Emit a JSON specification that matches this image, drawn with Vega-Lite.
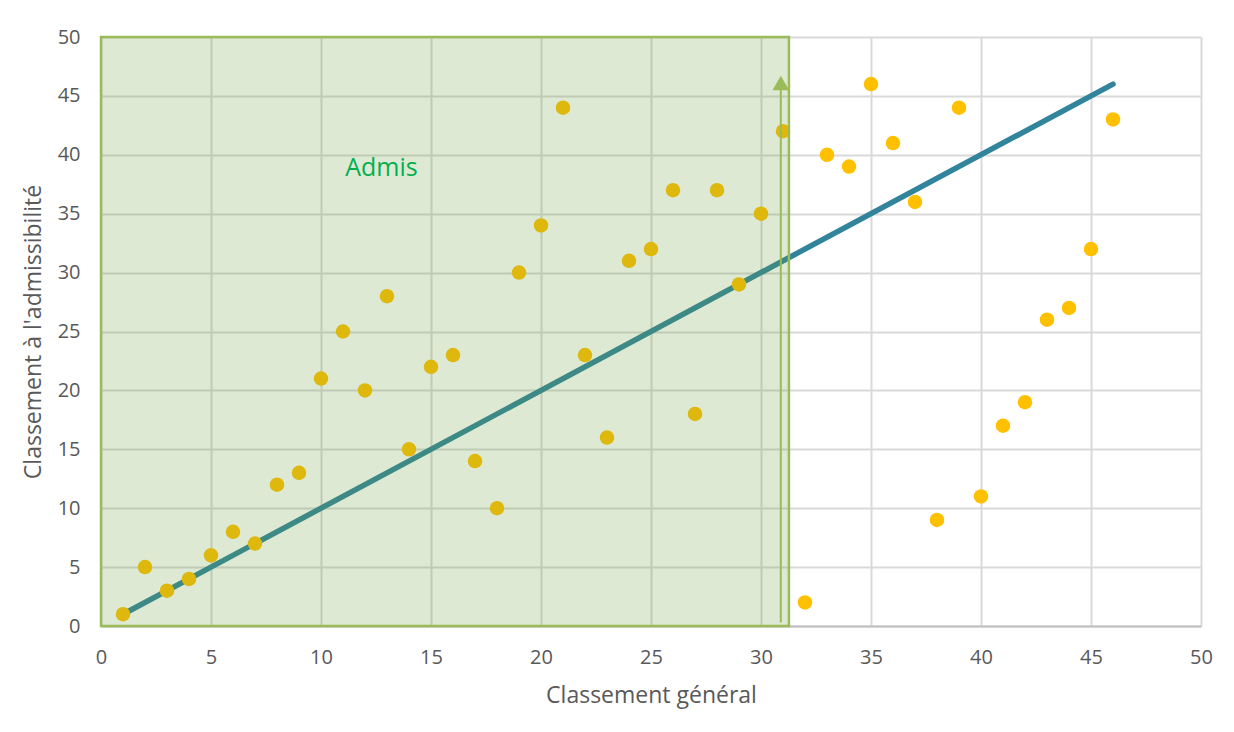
{
  "$schema": "https://vega.github.io/schema/vega-lite/v6.json",
  "width": 1100,
  "height": 589,
  "autosize": {"type": "none"},
  "padding": {"left": 101, "top": 37, "right": 33, "bottom": 106},
  "background": "white",
  "config": {
    "view": {"stroke": null},
    "font": "Open Sans",
    "axis": {"labelFont": "Open Sans", "titleFont": "Open Sans", "labelColor": "#595959", "titleColor": "#595959", "labelFontSize": 20, "titleFontSize": 23, "titleFontWeight": "normal", "gridColor": "#D9D9D9", "gridWidth": 2, "ticks": false, "labelFlush": false}
  },
  "datasets": {
    "pts": [
      {"g": 1, "a": 1}, {"g": 2, "a": 5}, {"g": 3, "a": 3}, {"g": 4, "a": 4}, {"g": 5, "a": 6},
      {"g": 6, "a": 8}, {"g": 7, "a": 7}, {"g": 8, "a": 12}, {"g": 9, "a": 13}, {"g": 10, "a": 21},
      {"g": 11, "a": 25}, {"g": 12, "a": 20}, {"g": 13, "a": 28}, {"g": 14, "a": 15}, {"g": 15, "a": 22},
      {"g": 16, "a": 23}, {"g": 17, "a": 14}, {"g": 18, "a": 10}, {"g": 19, "a": 30}, {"g": 20, "a": 34},
      {"g": 21, "a": 44}, {"g": 22, "a": 23}, {"g": 23, "a": 16}, {"g": 24, "a": 31}, {"g": 25, "a": 32},
      {"g": 26, "a": 37}, {"g": 27, "a": 18}, {"g": 28, "a": 37}, {"g": 29, "a": 29}, {"g": 30, "a": 35},
      {"g": 31, "a": 42}, {"g": 32, "a": 2}, {"g": 33, "a": 40}, {"g": 34, "a": 39}, {"g": 35, "a": 46},
      {"g": 36, "a": 41}, {"g": 37, "a": 36}, {"g": 38, "a": 9}, {"g": 39, "a": 44}, {"g": 40, "a": 11},
      {"g": 41, "a": 17}, {"g": 42, "a": 19}, {"g": 43, "a": 26}, {"g": 44, "a": 27}, {"g": 45, "a": 32},
      {"g": 46, "a": 43}
    ],
    "diag": [{"g": 1, "a": 1}, {"g": 46, "a": 46}],
    "zone": [{"x1": 0, "x2": 31.27, "y1": 0, "y2": 50}],
    "arrow": [{"g": 30.9, "a": 0.3}, {"g": 30.9, "a": 45.6}],
    "head": [{"g": 30.9, "a": 46.1}],
    "label": [{"g": 12.75, "a": 38.9, "t": "Admis"}]
  },
  "layer": [
    {
      "data": {"name": "diag"},
      "mark": {"type": "line", "color": "#31849B", "strokeWidth": 5.5, "strokeCap": "round"},
      "encoding": {
        "x": {"field": "g", "type": "quantitative", "scale": {"domain": [0, 50], "nice": false}, "axis": {"title": "Classement général", "values": [0,5,10,15,20,25,30,35,40,45,50], "labelPadding": 21, "titlePadding": 17, "domain": true, "domainColor": "#BFBFBF", "domainWidth": 2}},
        "y": {"field": "a", "type": "quantitative", "scale": {"domain": [0, 50], "nice": false}, "axis": {"title": "Classement à l'admissibilité", "values": [0,5,10,15,20,25,30,35,40,45,50], "labelPadding": 21, "titlePadding": 12, "domain": false}}
      }
    },
    {
      "data": {"name": "pts"},
      "mark": {"type": "circle", "color": "#FFC000", "opacity": 1, "size": 210},
      "encoding": {
        "x": {"field": "g", "type": "quantitative"},
        "y": {"field": "a", "type": "quantitative"}
      }
    },
    {
      "data": {"name": "zone"},
      "mark": {"type": "rect", "fill": "#6A9A3A", "fillOpacity": 0.22, "stroke": "#9BBB59", "strokeWidth": 2.5},
      "encoding": {
        "x": {"field": "x1", "type": "quantitative"},
        "x2": {"field": "x2"},
        "y": {"field": "y1", "type": "quantitative"},
        "y2": {"field": "y2"}
      }
    },
    {
      "data": {"name": "arrow"},
      "mark": {"type": "line", "color": "#9BBB59", "strokeWidth": 2},
      "encoding": {
        "x": {"field": "g", "type": "quantitative"},
        "y": {"field": "a", "type": "quantitative"}
      }
    },
    {
      "data": {"name": "head"},
      "mark": {"type": "point", "shape": "triangle-up", "filled": true, "color": "#9BBB59", "opacity": 1, "size": 280},
      "encoding": {
        "x": {"field": "g", "type": "quantitative"},
        "y": {"field": "a", "type": "quantitative"}
      }
    },
    {
      "data": {"name": "label"},
      "mark": {"type": "text", "color": "#00B050", "fontSize": 25, "font": "Open Sans", "align": "center", "baseline": "middle"},
      "encoding": {
        "x": {"field": "g", "type": "quantitative"},
        "y": {"field": "a", "type": "quantitative"},
        "text": {"field": "t"}
      }
    }
  ]
}
